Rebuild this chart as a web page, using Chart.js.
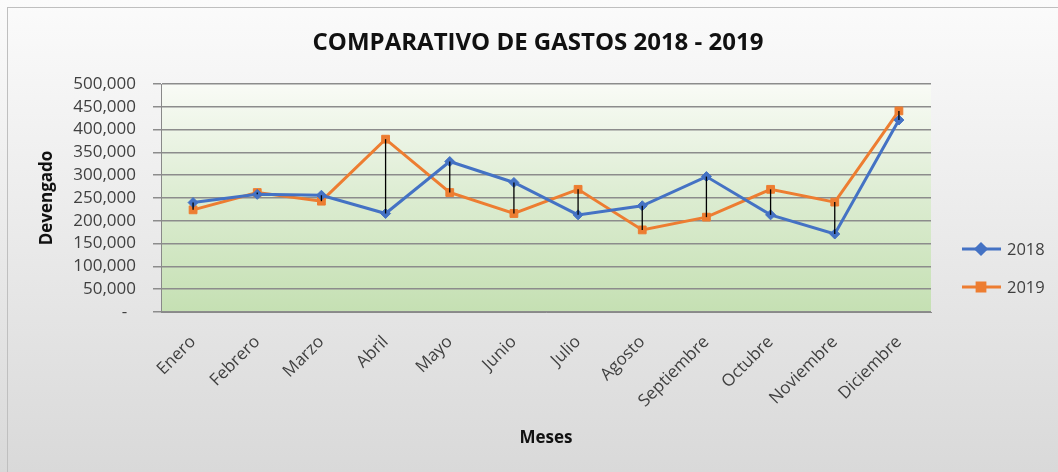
<!DOCTYPE html>
<html>
<head>
<meta charset="utf-8">
<script src="https://cdn.jsdelivr.net/npm/chart.js@4.4.1/dist/chart.umd.min.js"></script>
<style>
  html, body { margin: 0; padding: 0; background: #fff; }
  #wrap { width: 1058px; height: 472px; }
</style>
</head>
<body>
<div id="wrap"><canvas id="myChart" width="1058" height="472"></canvas></div>
<script>
// data
const meses = ["Enero", "Febrero", "Marzo", "Abril", "Mayo", "Junio", "Julio", "Agosto", "Septiembre", "Octubre", "Noviembre", "Diciembre"];
const gastos2018 = [240000, 258000, 256000, 216000, 330000, 284000, 213000, 233000, 297000, 213000, 171000, 421000];
const gastos2019 = [224000, 262000, 243000, 379000, 262000, 216000, 269000, 180000, 208000, 269000, 241000, 441000];
const yTicks = [0, 50000, 100000, 150000, 200000, 250000, 300000, 350000, 400000, 450000, 500000];
const titulo = 'COMPARATIVO DE GASTOS 2018 - 2019';

const FONT = "'Open Sans', 'Noto Sans', sans-serif";

// backgrounds: outer gray gradient + green plot area
const fondo = {
    id: 'fondo',
    beforeDraw(chart) {
        const ctx = chart.ctx, a = chart.chartArea;
        ctx.save();
        let g = ctx.createLinearGradient(0, 0, 0, chart.height);
        g.addColorStop(0, '#fbfbfb');
        g.addColorStop(1, '#d9d9d9');
        ctx.fillStyle = g;
        ctx.fillRect(0, 0, chart.width, chart.height);
        ctx.strokeStyle = '#bfbfbf';
        ctx.lineWidth = 1;
        ctx.strokeRect(7.5, 7.5, chart.width + 10, chart.height + 10);
        g = ctx.createLinearGradient(0, a.top, 0, a.bottom);
        g.addColorStop(0, '#f9fbf6');
        g.addColorStop(0.5, '#dcecd1');
        g.addColorStop(1, '#c5e0b3');
        ctx.fillStyle = g;
        ctx.fillRect(a.left, a.top, a.right - a.left, a.bottom - a.top);
        // title, centred on the whole chart box
        ctx.fillStyle = '#111';
        ctx.font = 'bold 24px ' + FONT;
        ctx.textAlign = 'center';
        ctx.textBaseline = 'middle';
        ctx.fillText(titulo, 538, 43);
        ctx.restore();
    }
};

// black high-low lines between the two series
const lineasHL = {
    id: 'lineasHL',
    afterDatasetsDraw(chart) {
        const ctx = chart.ctx;
        const m0 = chart.getDatasetMeta(0).data, m1 = chart.getDatasetMeta(1).data;
        ctx.save();
        ctx.strokeStyle = '#000';
        ctx.lineWidth = 1.3;
        m0.forEach((p, i) => {
            const q = m1[i];
            ctx.beginPath();
            ctx.moveTo(p.x, p.y);
            ctx.lineTo(q.x, q.y);
            ctx.stroke();
        });
        ctx.restore();
    }
};

// legend on the right: line + marker + text
const leyenda = {
    id: 'leyenda',
    afterDraw(chart) {
        const ctx = chart.ctx;
        const ys = [249, 287];
        ctx.save();
        chart.data.datasets.forEach((ds, i) => {
            const y = ys[i];
            ctx.strokeStyle = ds.borderColor;
            ctx.lineWidth = 3;
            ctx.beginPath();
            ctx.moveTo(962, y);
            ctx.lineTo(1001, y);
            ctx.stroke();
            ctx.fillStyle = ds.backgroundColor;
            ctx.strokeStyle = ds.borderColor;
            Chart.helpers.drawPoint(ctx, { pointStyle: ds.pointStyle, radius: ds.pointRadius, borderWidth: 1 }, 981, y);
            ctx.fillStyle = '#404040';
            ctx.font = '16.5px ' + FONT;
            ctx.textBaseline = 'middle';
            ctx.fillText(ds.label, 1007, y + 1);
        });
        ctx.restore();
    }
};

var myChart = new Chart(document.getElementById('myChart').getContext('2d'), {
    type: 'line',
    data: {
        labels: meses,
        datasets: [{
            label: "2018",
            data: gastos2018,
            borderColor: "#4472c4",
            backgroundColor: "#4472c4",
            borderWidth: 3,
            pointStyle: 'rectRot',
            pointRadius: 5,
            pointBorderWidth: 1,
            tension: 0
        }, {
            label: "2019",
            data: gastos2019,
            borderColor: "#ed7d31",
            backgroundColor: "#ed7d31",
            borderWidth: 3,
            pointStyle: 'rect',
            pointRadius: 5.5,
            pointBorderWidth: 1,
            tension: 0
        }]
    },
    options: {
        responsive: false,
        animation: false,
        layout: { padding: { left: 33, right: 127, top: 84, bottom: 20 } },
        plugins: {
            legend: { display: false },
            tooltip: { enabled: false },
            title: { display: false }
        },
        scales: {
            x: {
                offset: true,
                grid: { display: false },
                border: { display: true, color: '#898989', width: 1 },
                ticks: {
                    color: '#404040',
                    font: { family: FONT, size: 17 },
                    minRotation: 45,
                    maxRotation: 45,
                    autoSkip: false,
                    padding: 12,
                    labelOffset: 0
                },
                title: {
                    display: true,
                    text: 'Meses',
                    color: '#111',
                    font: { family: FONT, size: 17, weight: 'bold' }
                },
                afterFit(s) { s.height = 140; }
            },
            y: {
                min: 0,
                max: 500000,
                afterBuildTicks(s) { s.ticks = yTicks.map(v => ({ value: v })); },
                grid: { color: '#8c8c8c', lineWidth: 1.5, tickLength: 8 },
                border: { display: true, color: '#898989', width: 1 },
                ticks: {
                    color: '#404040',
                    font: { family: FONT, size: 17 },
                    padding: 17,
                    autoSkip: false,
                    callback: v => v === 0 ? '-  ' : v.toLocaleString('en-US')
                },
                title: {
                    display: true,
                    text: 'Devengado',
                    color: '#111',
                    font: { family: FONT, size: 17, weight: 'bold' }
                },
                afterFit(s) { s.width = 128; }
            }
        }
    },
    plugins: [fondo, lineasHL, leyenda]
});
</script>
</body>
</html>
